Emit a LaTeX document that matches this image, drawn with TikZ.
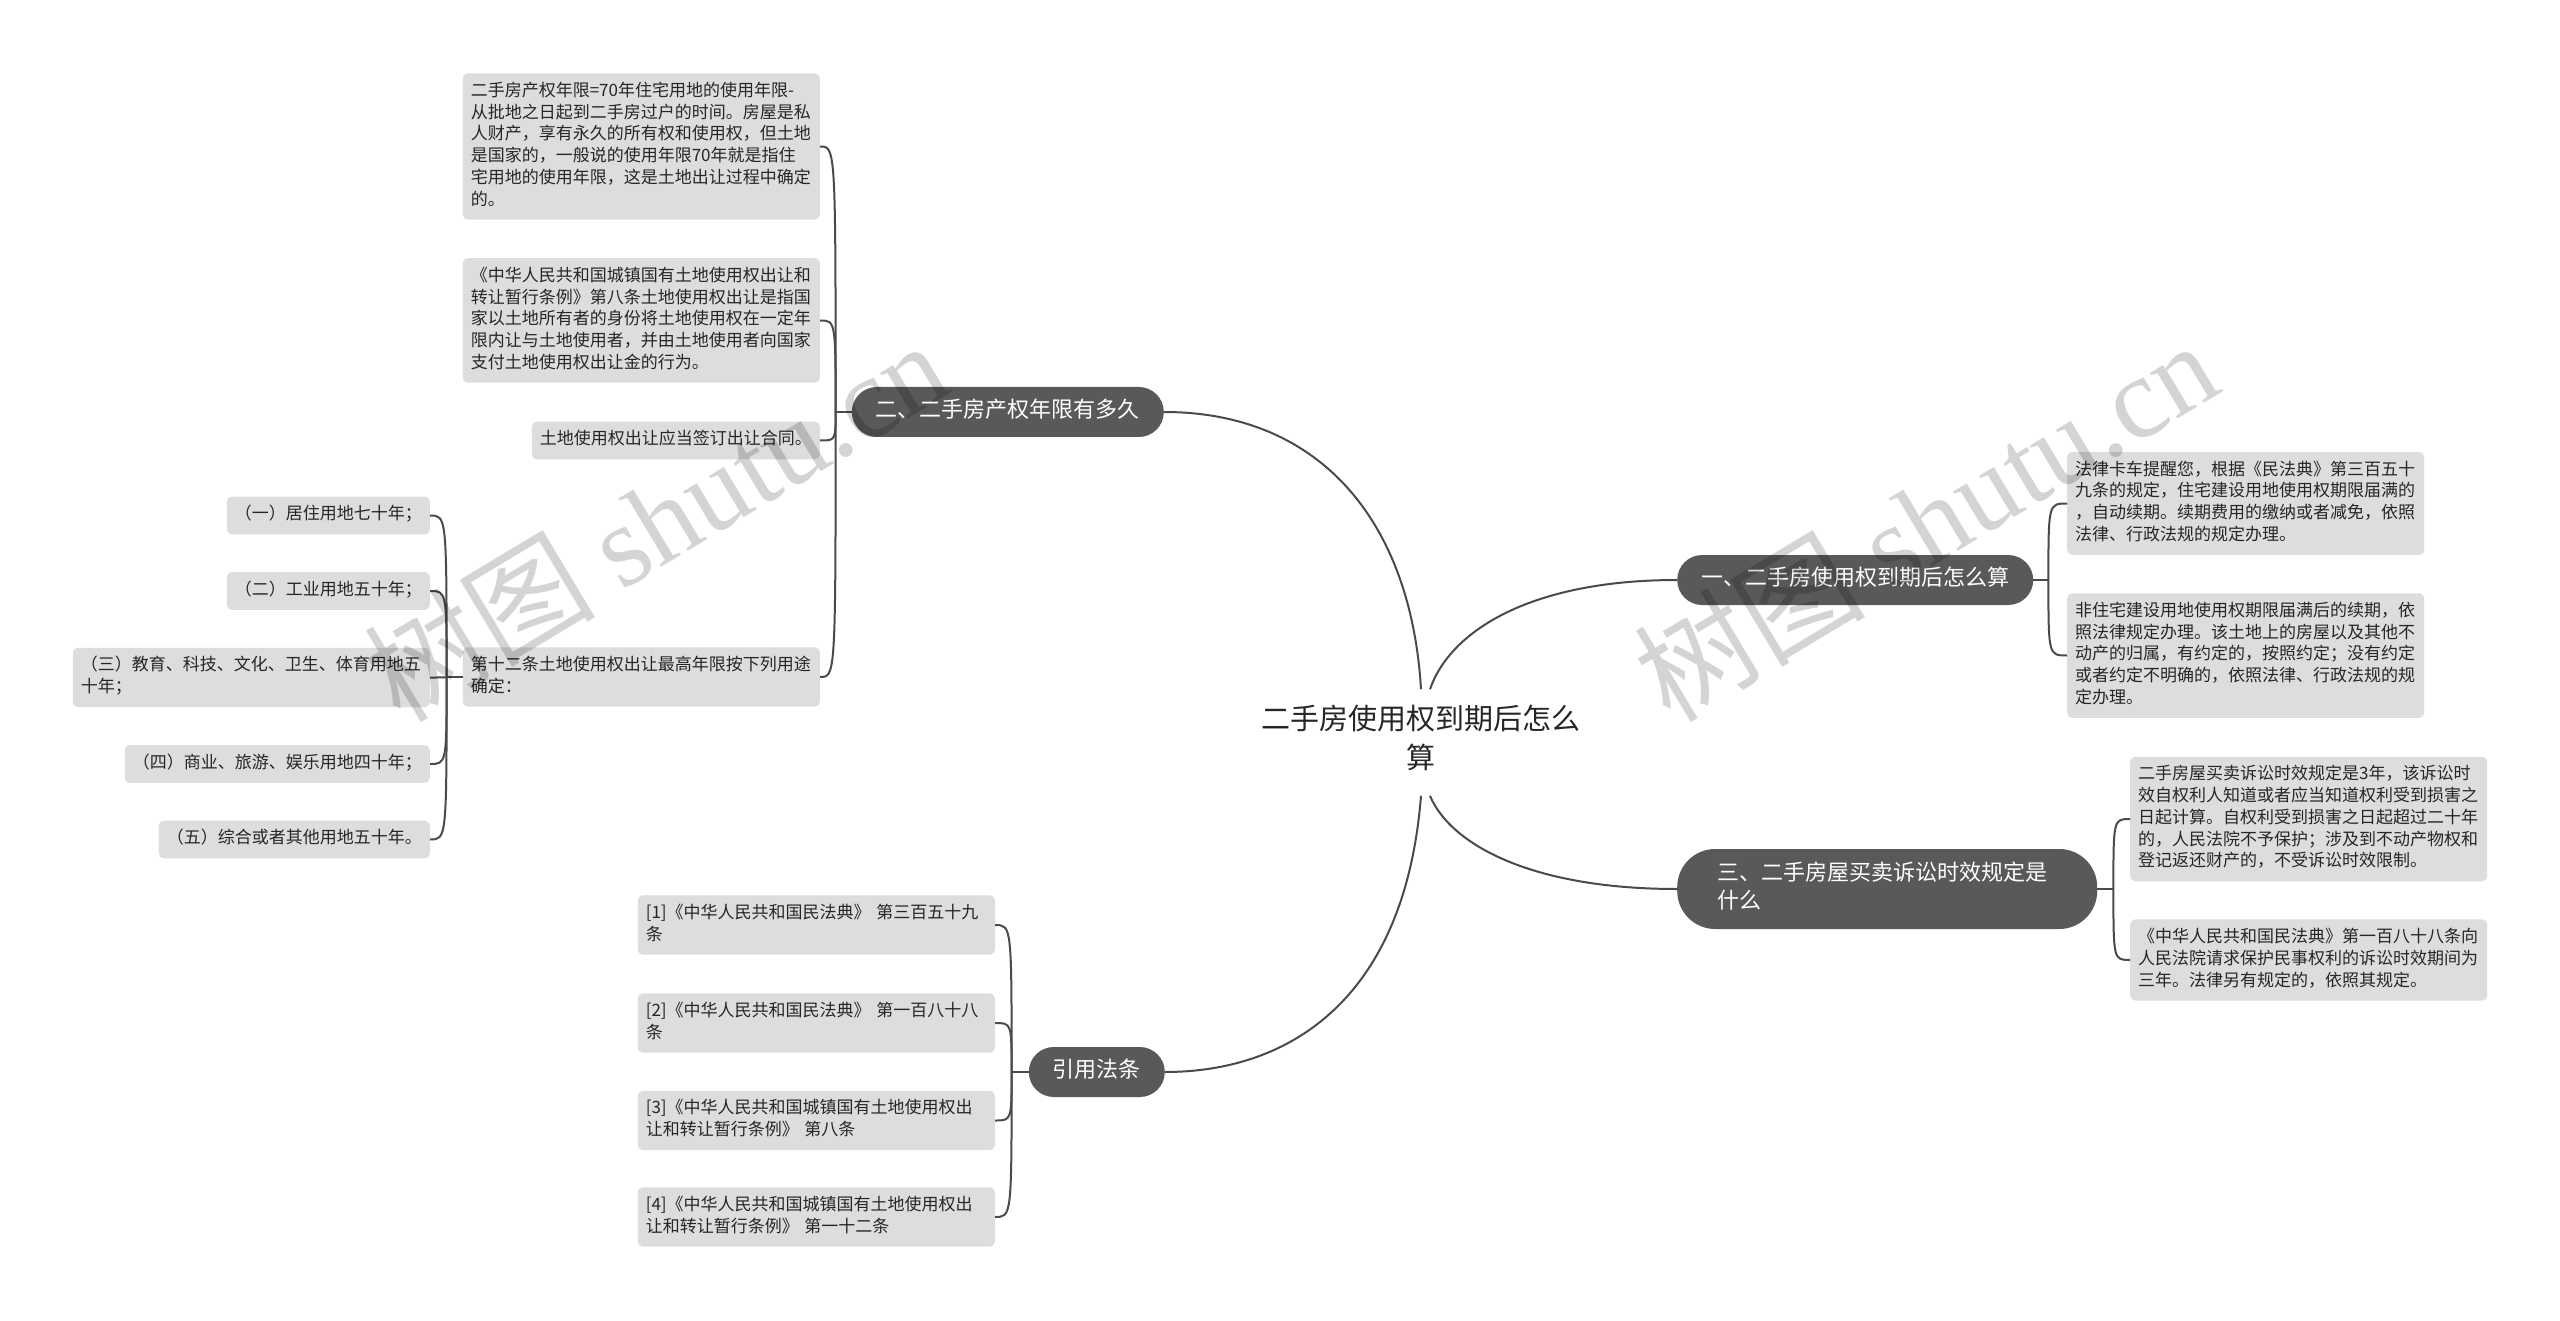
\documentclass[tikz,border=0pt]{standalone}
\usepackage{fontspec}
\setmainfont{Noto Sans CJK SC}
\newfontfamily\wmlatin{Liberation Serif}
\definecolor{linec}{HTML}{4A4A4A}
\definecolor{topicfill}{HTML}{595959}
\definecolor{boxfill}{HTML}{DDDDDD}
\definecolor{txt}{HTML}{262626}
\begin{document}
\begin{tikzpicture}[x=1pt,y=-1pt,
  link/.style={draw=linec, line width=2pt},
  box/.style={fill=boxfill, rounded corners=5pt, inner xsep=8pt, inner ysep=8pt, align=left,
    font=\fontsize{17}{21.7}\selectfont, text=txt, execute at begin node=\strut, execute at end node=\strut},
  widebox/.style={box, text width=341pt},
  topic/.style={fill=topicfill, text=white, rounded corners=25pt, inner xsep=24pt, inner ysep=11pt,
    align=left, font=\fontsize{22}{28}\selectfont, execute at begin node=\strut, execute at end node=\strut},
  rootnode/.style={align=center, text=txt, inner ysep=15.5pt, font=\fontsize{29}{39}\selectfont,
    execute at begin node=\strut, execute at end node=\strut},
  wm/.style={rotate=31, text=black, opacity=0.17, inner sep=0pt}
]
\fill[white] (0,0) rectangle (2560,1321);
\useasboundingbox (0,0) rectangle (2560,1321);

% root
\node[rootnode] (root) at (1421,742.5) {二手房使用权到期后怎么\\算};

% main topics
\node[topic, anchor=east] (n2) at (1164,412) {二、二手房产权年限有多久};
\node[topic, anchor=west] (n1) at (1677,580) {一、二手房使用权到期后怎么算};
\node[topic, anchor=west, text width=340pt, inner xsep=40pt, inner ysep=12pt, rounded corners=38pt] (n3) at (1677,889) {三、二手房屋买卖诉讼时效规定是\\什么};
\node[topic, anchor=east] (n4) at (1165,1072) {引用法条};

% group 二
\node[widebox, anchor=east] (b1) at (820,146.5) {二手房产权年限=70年住宅用地的使用年限-\\从批地之日起到二手房过户的时间。房屋是私\\人财产，享有永久的所有权和使用权，但土地\\是国家的，一般说的使用年限70年就是指住\\宅用地的使用年限，这是土地出让过程中确定\\的。};
\node[widebox, anchor=east] (b2) at (820,320.5) {《中华人民共和国城镇国有土地使用权出让和\\转让暂行条例》第八条土地使用权出让是指国\\家以土地所有者的身份将土地使用权在一定年\\限内让与土地使用者，并由土地使用者向国家\\支付土地使用权出让金的行为。};
\node[box, anchor=east] (b3) at (820,440.5) {土地使用权出让应当签订出让合同。};
\node[widebox, anchor=east] (b4) at (820,677) {第十二条土地使用权出让最高年限按下列用途\\确定：};

% group 第十二条
\node[box, anchor=east] (c1) at (430,515.5) {（一）居住用地七十年；};
\node[box, anchor=east] (c2) at (430,591) {（二）工业用地五十年；};
\node[widebox, anchor=east] (c3) at (430,677.5) {（三）教育、科技、文化、卫生、体育用地五\\十年；};
\node[box, anchor=east] (c4) at (430,764) {（四）商业、旅游、娱乐用地四十年；};
\node[box, anchor=east] (c5) at (430,839.5) {（五）综合或者其他用地五十年。};

% group 引用法条
\node[widebox, anchor=east] (r1) at (995,925) {[1]《中华人民共和国民法典》 第三百五十九\\条};
\node[widebox, anchor=east] (r2) at (995,1023) {[2]《中华人民共和国民法典》 第一百八十八\\条};
\node[widebox, anchor=east] (r3) at (995,1120.5) {[3]《中华人民共和国城镇国有土地使用权出\\让和转让暂行条例》 第八条};
\node[widebox, anchor=east] (r4) at (995,1217) {[4]《中华人民共和国城镇国有土地使用权出\\让和转让暂行条例》 第一十二条};

% group 一
\node[widebox, anchor=west] (a1) at (2067,503.5) {法律卡车提醒您，根据《民法典》第三百五十\\九条的规定，住宅建设用地使用权期限届满的\\，自动续期。续期费用的缴纳或者减免，依照\\法律、行政法规的规定办理。};
\node[widebox, anchor=west] (a2) at (2067,655.5) {非住宅建设用地使用权期限届满后的续期，依\\照法律规定办理。该土地上的房屋以及其他不\\动产的归属，有约定的，按照约定；没有约定\\或者约定不明确的，依照法律、行政法规的规\\定办理。};

% group 三
\node[widebox, anchor=west] (d1) at (2130,819) {二手房屋买卖诉讼时效规定是3年，该诉讼时\\效自权利人知道或者应当知道权利受到损害之\\日起计算。自权利受到损害之日起超过二十年\\的，人民法院不予保护；涉及到不动产物权和\\登记返还财产的，不受诉讼时效限制。};
\node[widebox, anchor=west] (d2) at (2130,960) {《中华人民共和国民法典》第一百八十八条向\\人民法院请求保护民事权利的诉讼时效期间为\\三年。法律另有规定的，依照其规定。};

% root connectors
\draw[link] (root.north) .. controls +(-10,-168) and +(156,0) .. (n2.east);
\draw[link] ([xshift=9pt]root.north) .. controls +(20,-58) and +(-147,0) .. (n1.west);
\draw[link] ([xshift=9pt]root.south) .. controls +(20,48) and +(-147,0) .. (n3.west);
\draw[link] (root.south) .. controls +(-16,203) and +(125,0) .. (n4.east);

% trunks
\coordinate (t2) at ([xshift=-16pt]n2.west);
\coordinate (t4) at ([xshift=-16pt]b4.west);
\coordinate (tr) at ([xshift=-17pt]n4.west);
\coordinate (ta) at ([xshift=15pt]n1.east);
\coordinate (td) at ([xshift=16pt]n3.east);

\draw[link] (n2.west) -- (t2);
\foreach \c in {b1,b2,b3,b4}
  \draw[link] (t2) .. controls (t2 |- \c.east) and (t2 |- \c.east) .. (\c.east);
\draw[link] (b4.west) -- (t4);
\foreach \c in {c1,c2,c3,c4,c5}
  \draw[link] (t4) .. controls (t4 |- \c.east) and (t4 |- \c.east) .. (\c.east);
\draw[link] (n4.west) -- (tr);
\foreach \c in {r1,r2,r3,r4}
  \draw[link] (tr) .. controls (tr |- \c.east) and (tr |- \c.east) .. (\c.east);
\draw[link] (n1.east) -- (ta);
\foreach \c in {a1,a2}
  \draw[link] (ta) .. controls (ta |- \c.west) and (ta |- \c.west) .. (\c.west);
\draw[link] (n3.east) -- (td);
\foreach \c in {d1,d2}
  \draw[link] (td) .. controls (td |- \c.west) and (td |- \c.west) .. (\c.west);

% watermarks
\node[wm, font=\fontsize{116}{120}\selectfont] (wm1) at (655,520) {树图 {\wmlatin shutu.cn}};
\node[wm, font=\fontsize{116}{120}\selectfont] (wm2) at (1925,520) {树图 {\wmlatin shutu.cn}};
\end{tikzpicture}
\end{document}
